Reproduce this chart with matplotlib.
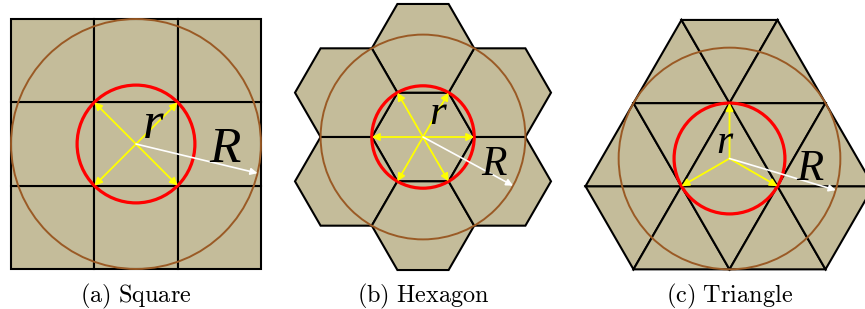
import numpy as np
import matplotlib.pyplot as plt
from matplotlib.patches import Polygon, Circle
from matplotlib.path import Path

plt.rcParams['mathtext.fontset'] = 'cm'

W, H = 865, 309

# panel layout (pixels) and geometry (in units of one cell side)
captions = [r'$\mathrm{(a)\ Square}$', r'$\mathrm{(b)\ Hexagon}$', r'$\mathrm{(c)\ Triangle}$']
panel_x = [(0, 288), (288, 576), (576, 865)]
centers = [(136, 144), (423, 137), (729.5, 158.5)]
scales = [83.3, 51.2, 96.0]
small_r = [np.sqrt(2) / 2, 1.0, 1 / np.sqrt(3)]
big_R = [1.5, 2.0, 2 / np.sqrt(3)]
R_angle = [-13.5, -28.4, -16.6]
r_label = [(0.20, 0.07), (0.28, 0.25), (-0.055, 0.057)]
R_label = [(1.07, -0.22), (1.38, -0.75), (0.84, -0.22)]
r_size = [38, 31, 30]
R_size = [37, 30, 32]
caption_base = 302

fill = '#c4bc9a'
brown = '#9a5a25'


def square_cells():
    cells = []
    for i in range(3):
        for j in range(3):
            x, y = i - 1.5, j - 1.5
            cells.append([(x, y), (x + 1, y), (x + 1, y + 1), (x, y + 1)])
    tips = [(0.5, 0.5), (-0.5, 0.5), (-0.5, -0.5), (0.5, -0.5)]
    return cells, tips


def hex_cells():
    ang = np.radians(np.arange(0, 360, 60))
    hexagon = np.c_[np.cos(ang), np.sin(ang)]
    centres = [(0, 0)]
    for a in np.radians(np.arange(30, 360, 60)):
        centres.append((np.sqrt(3) * np.cos(a), np.sqrt(3) * np.sin(a)))
    cells = [hexagon + np.array(c) for c in centres]
    return cells, list(map(tuple, hexagon))


def tri_cells():
    h = np.sqrt(3) / 2
    outline = Path([(-0.5, 5 * h / 3), (0.5, 5 * h / 3), (1.5, -h / 3),
                    (1, -4 * h / 3), (-1, -4 * h / 3), (-1.5, -h / 3)])

    def P(i, j):
        return (-0.5 + i + j / 2, -h / 3 + j * h)

    cells = []
    for i in range(-6, 7):
        for j in range(-4, 5):
            for tri in ([P(i, j), P(i + 1, j), P(i, j + 1)],
                        [P(i + 1, j), P(i + 1, j + 1), P(i, j + 1)]):
                c = np.mean(tri, axis=0)
                if outline.contains_point(c):
                    cells.append(tri)
    tips = [(0, 2 * h / 3), (-0.5, -h / 3), (0.5, -h / 3)]
    return cells, tips


fig = plt.figure(figsize=(W / 100, H / 100), dpi=100)

for k, build in enumerate([square_cells, hex_cells, tri_cells]):
    x0, x1 = panel_x[k]
    cx, cy = centers[k]
    s = scales[k]
    ax = fig.add_axes([x0 / W, 0, (x1 - x0) / W, 1])
    ax.set_xlim((x0 - cx) / s, (x1 - cx) / s)
    ax.set_ylim((cy - H) / s, cy / s)
    ax.axis('off')

    cells, tips = build()
    for c in cells:
        ax.add_patch(Polygon(c, closed=True, facecolor=fill, edgecolor='black',
                             lw=1.5, zorder=1))

    ax.add_patch(Circle((0, 0), big_R[k], fill=False, ec=brown, lw=1.4, zorder=2))
    ax.add_patch(Circle((0, 0), small_r[k], fill=False, ec='red', lw=2.3, zorder=3))

    for t in tips:
        ax.annotate('', xy=t, xytext=(0, 0),
                    arrowprops=dict(arrowstyle='-|>', color='yellow', lw=1.3,
                                    mutation_scale=11, shrinkA=0, shrinkB=0),
                    zorder=4)

    a = np.radians(R_angle[k])
    ax.annotate('', xy=(big_R[k] * np.cos(a), big_R[k] * np.sin(a)), xytext=(0, 0),
                arrowprops=dict(arrowstyle='-|>', color='white', lw=1.2,
                                mutation_scale=10, shrinkA=0, shrinkB=0),
                zorder=4)

    ax.text(*r_label[k], 'r', family='Liberation Serif', style='italic',
            fontsize=r_size[k], ha='center', va='baseline', zorder=5)
    ax.text(*R_label[k], 'R', family='Liberation Serif', style='italic',
            fontsize=R_size[k], ha='center', va='baseline', zorder=5)

    ax.text(0, (cy - caption_base) / s, captions[k], fontsize=17.5,
            ha='center', va='baseline')

fig.savefig('out.png', dpi=100, facecolor='white')
